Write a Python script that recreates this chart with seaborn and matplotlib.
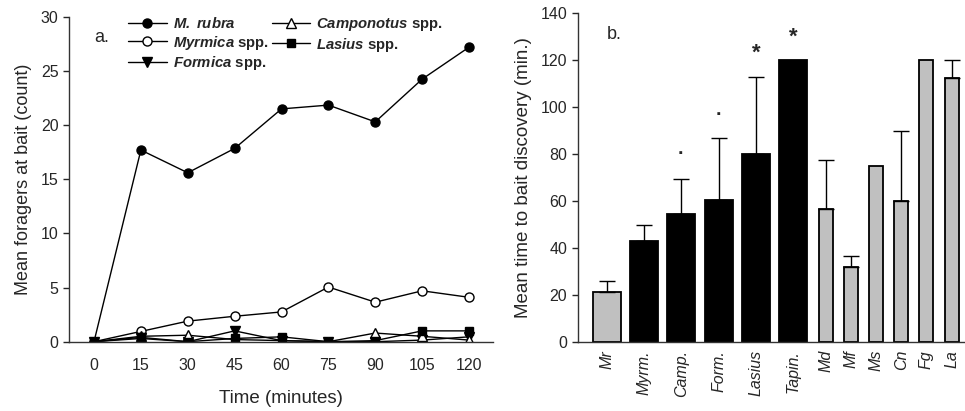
import matplotlib
matplotlib.use("Agg")
import matplotlib.pyplot as plt
import seaborn as sns
import numpy as np
import pandas as pd

# ---- dados painel a: forrageadoras na isca ao longo do tempo ----
tempo = [0, 15, 30, 45, 60, 75, 90, 105, 120]
m_rubra = [0, 17.7, 15.6, 17.85, 21.5, 21.85, 20.3, 24.25, 27.2]
myrmica = [0, 0.95, 1.9, 2.35, 2.75, 5.05, 3.65, 4.7, 4.1]
formica = [0, 0.3, 0.0, 1.0, 0.1, 0.0, 0.0, 0.15, 0.45]
camponotus = [0, 0.5, 0.6, 0.2, 0.1, 0.0, 0.8, 0.5, 0.15]
lasius = [0, 0.4, 0.0, 0.3, 0.45, 0.0, 0.1, 1.0, 1.0]

# ---- dados painel b: tempo médio até descobrir a isca ----
grupos_largos = ["Mr", "Myrm.", "Camp.", "Form.", "Lasius", "Tapin."]
media_largos = [21.0, 42.8, 54.6, 60.3, 80.2, 120.0]
topo_erro_largos = [26.0, 49.7, 69.4, 87.0, 112.7, np.nan]
cor_largos = ["#c0c0c0", "black", "black", "black", "black", "black"]

grupos_estreitos = ["Md", "Mf", "Ms", "Cn", "Fg", "La"]
media_estreitos = [56.4, 31.8, 75.0, 60.1, 120.0, 112.6]
topo_erro_estreitos = [77.6, 36.4, np.nan, 90.0, np.nan, 120.0]

marcas_asterisco = {"Lasius": 123.0, "Tapin.": 130.0}
marcas_ponto = {"Camp.": 79.6, "Form.": 96.6}


def configurar_estilo():
    sns.set_theme(style="ticks")
    plt.rcParams["font.family"] = ["Liberation Sans", "DejaVu Sans"]
    plt.rcParams["mathtext.fontset"] = "custom"
    plt.rcParams["mathtext.bfit"] = "Liberation Sans:italic:bold"
    plt.rcParams["mathtext.it"] = "Liberation Sans:italic"
    plt.rcParams["figure.facecolor"] = "white"
    plt.rcParams["axes.linewidth"] = 1.0
    plt.rcParams["axes.edgecolor"] = "#333333"


def plotar_forrageadoras(ax):
    series = [
        (m_rubra, r"$\mathbfit{M.\ rubra}$", "o", "black", 6.5),
        (myrmica, r"$\mathbfit{Myrmica}$ spp.", "o", "white", 6.5),
        (formica, r"$\mathbfit{Formica}$ spp.", "v", "black", 6.8),
        (camponotus, r"$\mathbfit{Camponotus}$ spp.", "^", "white", 6.8),
        (lasius, r"$\mathbfit{Lasius}$ spp.", "s", "black", 5.8),
    ]
    for valores, rotulo, marcador, preenchimento, tamanho in series:
        sns.lineplot(
            x=tempo, y=valores, ax=ax, color="black", linewidth=1.0,
            marker=marcador, markersize=tamanho,
            markerfacecolor=preenchimento, markeredgecolor="black",
            markeredgewidth=1.0, label=rotulo,
        )
    ax.set_xlim(-8, 127.7)
    ax.set_ylim(0, 30)
    ax.set_xticks(tempo)
    ax.set_yticks(range(0, 31, 5))
    ax.tick_params(axis="x", length=0, pad=12, labelsize=11.5)
    ax.tick_params(axis="y", length=4, width=1, labelsize=11.5)
    ax.set_xlabel("Time (minutes)", fontsize=13.5, labelpad=12)
    ax.set_ylabel("Mean foragers at bait (count)", fontsize=13, labelpad=6)
    ax.text(0, 28.1, "a.", fontsize=13, ha="left", va="center")
    sns.despine(ax=ax)
    ax.legend(
        ncol=2, frameon=False, loc="upper left", bbox_to_anchor=(0.125, 1.02),
        handlelength=2.6, handletextpad=0.4, columnspacing=0.2,
        labelspacing=0.15, borderaxespad=0, prop={"weight": "bold", "size": 10.7},
    )


def plotar_descoberta(ax):
    pos_largos = np.arange(len(grupos_largos), dtype=float)
    pos_estreitos = 5.866 + 0.675 * np.arange(len(grupos_estreitos))

    df_largos = pd.DataFrame({"pos": pos_largos, "media": media_largos})
    df_estreitos = pd.DataFrame({"pos": pos_estreitos, "media": media_estreitos})

    sns.barplot(
        data=df_largos, x="pos", y="media", hue="pos", palette=cor_largos,
        native_scale=True, width=0.75, saturation=1, edgecolor="black",
        linewidth=1.3, errorbar=None, legend=False, ax=ax,
    )
    sns.barplot(
        data=df_estreitos, x="pos", y="media", native_scale=True,
        width=0.375 / 0.675, saturation=1, color="#c0c0c0", edgecolor="black",
        linewidth=1.3, errorbar=None, ax=ax,
    )

    pos = np.concatenate([pos_largos, pos_estreitos])
    medias = np.array(media_largos + media_estreitos)
    topos = np.array(topo_erro_largos + topo_erro_estreitos)
    erro_sup = topos - medias
    tem_erro = ~np.isnan(erro_sup)
    ax.errorbar(
        pos[tem_erro], medias[tem_erro],
        yerr=[np.zeros(tem_erro.sum()), erro_sup[tem_erro]],
        fmt="none", ecolor="black", elinewidth=1.0, capsize=5.5, capthick=1.0,
        zorder=1,
    )

    rotulos = grupos_largos + grupos_estreitos
    for nome, y in marcas_asterisco.items():
        ax.text(pos[rotulos.index(nome)], y, "*", fontsize=16,
                ha="center", va="center", fontweight="bold")
    for nome, y in marcas_ponto.items():
        ax.text(pos[rotulos.index(nome)], y, "·", fontsize=14,
                ha="center", va="center", fontweight="bold")
    ax.text(0, 131, "b.", fontsize=13, ha="left", va="center")

    ax.set_xlim(-0.777, 9.6)
    ax.set_ylim(0, 140)
    ax.set_xticks(pos)
    ax.set_xticklabels(rotulos, rotation=90, style="italic", fontsize=11.5)
    ax.set_yticks(range(0, 141, 20))
    ax.tick_params(axis="x", length=0, pad=6)
    ax.tick_params(axis="y", length=4, width=1, labelsize=11.5)
    ax.set_xlabel("")
    ax.set_ylabel("Mean time to bait discovery (min.)", fontsize=13.5, labelpad=6)
    sns.despine(ax=ax)


configurar_estilo()
fig = plt.figure(figsize=(9.65, 4.11), dpi=100)
ax_a = fig.add_axes([0.0715, 0.1686, 0.4395, 0.7904])
ax_b = fig.add_axes([0.5986, 0.1686, 0.4014, 0.7990])
plotar_forrageadoras(ax_a)
plotar_descoberta(ax_b)
fig.savefig("out.png", dpi=100)
